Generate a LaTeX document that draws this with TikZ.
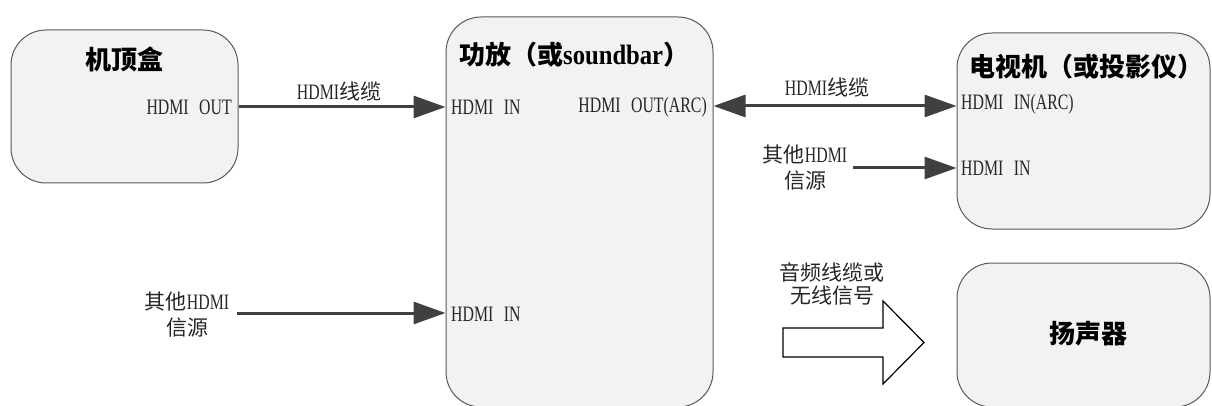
\documentclass[tikz,border=0pt]{standalone}
\usepackage{fontspec}
\newfontfamily\cjk{Noto Sans CJK SC}
\newfontfamily\lat{Liberation Serif}[FakeStretch=0.72]
\newfontfamily\latb{Liberation Serif}[FakeStretch=0.88]
\usetikzlibrary{arrows.meta}
\newcommand\hs{\hspace{10.5pt}}
\newcommand\lt[1]{{\fontsize{22}{26}\selectfont\lat #1}}
\definecolor{boxfill}{HTML}{F2F2F2}
\definecolor{boxline}{HTML}{595959}
\definecolor{conncol}{HTML}{404040}
\definecolor{txtcol}{HTML}{262626}
\tikzset{
  devbox/.style={draw=boxline, fill=boxfill, line width=1pt, rounded corners=35pt, inner sep=0pt},
  port/.style={inner sep=0pt, text=txtcol, font=\fontsize{21}{26}\selectfont\cjk},
  lbl/.style={inner sep=0pt, align=center, text=txtcol, font=\fontsize{21}{26}\selectfont\cjk},
  title/.style={inner sep=0pt, text=black, font=\fontsize{26}{30}\selectfont\cjk\bfseries},
  conn/.style={draw=conncol, line width=3pt, -{Triangle[length=32pt,width=22pt]}},
  biconn/.style={draw=conncol, line width=3pt, {Triangle[length=32pt,width=22pt]}-{Triangle[length=32pt,width=22pt]}},
  hollow/.style={draw=black, fill=white, line width=1.2pt, line join=miter}
}
\begin{document}
\begin{tikzpicture}[x=1pt,y=-1pt]
\useasboundingbox (0,0) rectangle (1212,406);
% boxes
\node[devbox, minimum width=227pt, minimum height=153pt] (stb) at (124.5,106.5) {};
\node[devbox, minimum width=267pt, minimum height=390pt] (amp) at (579.5,212) {};
\node[devbox, minimum width=253pt, minimum height=196pt] (tv) at (1083.5,131) {};
\node[devbox, minimum width=253pt, minimum height=144pt] (spk) at (1083.5,335) {};
% titles
\node[title] (stbt) at (124,59) {机顶盒};
\node[title, anchor=west] (ampt) at (459,55) {功放（或{\fontsize{28}{30}\selectfont\latb\bfseries soundbar}）};
\node[title] (tvt) at (1086,67) {电视机（或投影仪）};
\node[title] (spkt) at (1088,334) {扬声器};
% ports
\node[port, anchor=east] (stbout) at (232,107) {\lt{HDMI\hs OUT}};
\node[port, anchor=west] (ampin1) at (451,107) {\lt{HDMI\hs IN}};
\node[port, anchor=east] (ampout) at (707,107) {\lt{HDMI\hs OUT(ARC)}};
\node[port, anchor=west] (ampin2) at (451,314) {\lt{HDMI\hs IN}};
\node[port, anchor=west] (tvin1) at (961,104) {\lt{HDMI\hs IN(ARC)}};
\node[port, anchor=west] (tvin2) at (961,168) {\lt{HDMI\hs IN}};
% source labels
\node[lbl] (src1) at (805,168) {其他\lt{HDMI}\\信源};
\node[lbl] (src2) at (187,315) {其他\lt{HDMI}\\信源};
\node[lbl] (cbl1) at (339,92) {\lt{HDMI}线缆};
\node[lbl] (cbl2) at (827,88) {\lt{HDMI}线缆};
\node[lbl, font=\fontsize{21}{23}\selectfont\cjk] (aud) at (832,283.5) {音频线缆或\\无线信号};
% connectors
\draw[conn] (stb.east |- stbout) -- (amp.west |- stbout);
\draw[biconn] (amp.east |- 0,106) -- (tv.west |- 0,106);
\draw[conn] ([xshift=6pt]src1.east |- tvin2) -- (tv.west |- tvin2);
\draw[conn] ([xshift=8pt]src2.east |- 0,313) -- (amp.west |- 0,313);
% hollow arrow
\coordinate (ha) at (783,328);
\draw[hollow] (ha) -- (883,328) -- (883,301) -- (924,342.5) -- (883,384) -- (883,357) -- (783,357) -- cycle;
\end{tikzpicture}
\end{document}
